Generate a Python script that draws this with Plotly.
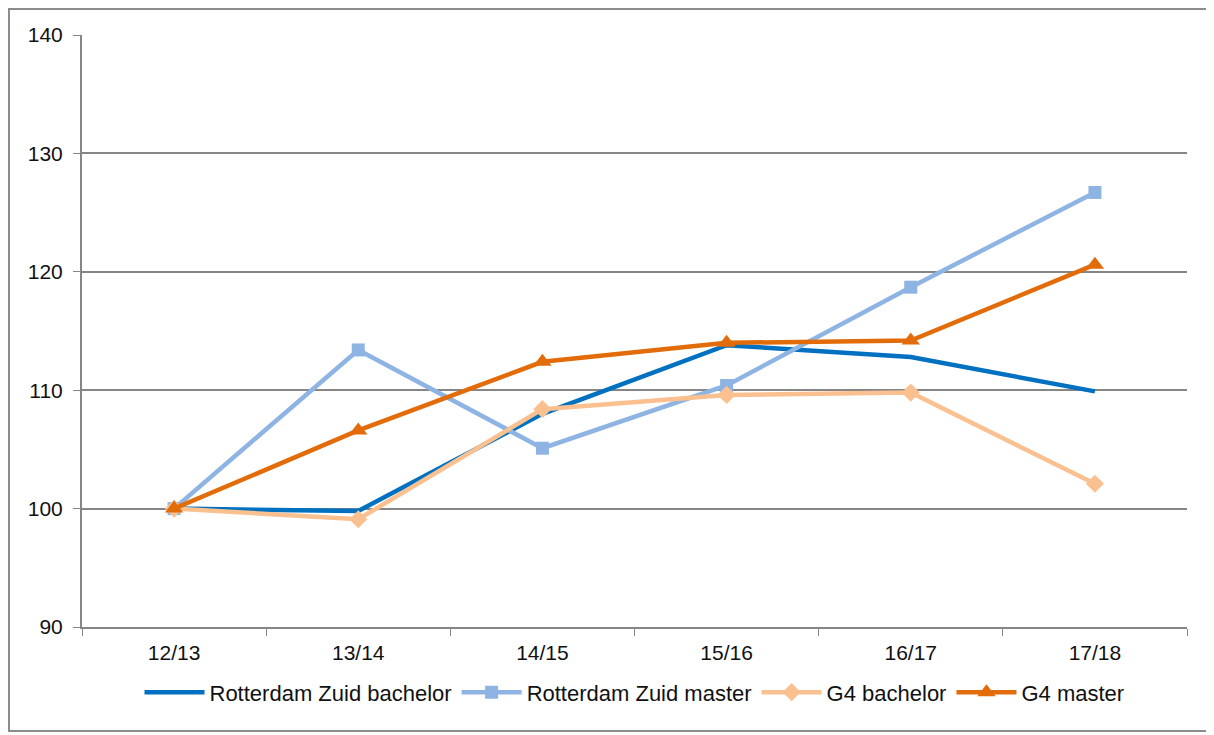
import plotly.graph_objects as go

years = ["12/13", "13/14", "14/15", "15/16", "16/17", "17/18"]

rz_bachelor = [100, 99.8, 108.0, 113.8, 112.8, 109.9]
rz_master = [100, 113.4, 105.1, 110.4, 118.7, 126.7]
g4_bachelor = [100, 99.1, 108.4, 109.6, 109.8, 102.1]
g4_master = [100, 106.6, 112.4, 114.0, 114.2, 120.6]

# page body has an 8px margin, so the figure is sized/placed to compensate
W, H = 1206, 727
L, R, T, B = 74, 27, 27, 108

fig = go.Figure()
fig.add_trace(go.Scatter(x=years, y=rz_bachelor, name="Rotterdam Zuid bachelor",
                         mode="lines", line=dict(color="#0070C0", width=4.5)))
fig.add_trace(go.Scatter(x=years, y=rz_master, name="Rotterdam Zuid master",
                         mode="lines+markers", line=dict(color="#8EB4E3", width=4.5),
                         marker=dict(symbol="square", size=13, color="#8EB4E3")))
fig.add_trace(go.Scatter(x=years, y=g4_bachelor, name="G4 bachelor",
                         mode="lines+markers", line=dict(color="#FAC090", width=4.5),
                         marker=dict(symbol="diamond", size=14, color="#FAC090")))
fig.add_trace(go.Scatter(x=years, y=g4_master, name="G4 master",
                         mode="lines+markers", line=dict(color="#E36C0A", width=4.5),
                         marker=dict(symbol="triangle-up", size=16, color="#E36C0A")))

pw, ph = W - L - R, H - T - B
# outer chart border
fig.add_shape(type="rect", xref="paper", yref="paper",
              x0=(1 - L) / pw, x1=(1202 - L) / pw,
              y0=(H - B - 723) / ph, y1=(H - B - 1) / ph,
              line=dict(color="#8c8c8c", width=2), layer="below")

fig.update_layout(
    width=W, height=H,
    margin=dict(l=L, r=R, t=T, b=B),
    paper_bgcolor="white", plot_bgcolor="white",
    font=dict(family="Liberation Sans, Arial", size=21, color="#111111"),
    showlegend=True,
    legend=dict(orientation="h", x=0.5, xanchor="center", y=-0.075, yanchor="top",
                font=dict(size=22), itemwidth=60, tracegroupgap=0),
)
fig.update_xaxes(showline=True, linecolor="#868686", linewidth=2,
                 ticks="outside", tickson="boundaries", ticklen=7, tickcolor="#868686",
                 showgrid=False, range=[-0.5, 5.5], ticklabelstandoff=6)
fig.update_yaxes(range=[90, 140], dtick=10, showline=True, linecolor="#868686", linewidth=2,
                 ticks="outside", ticklen=7, tickcolor="#868686",
                 showgrid=True, gridcolor="#868686", gridwidth=2, zeroline=False,
                 ticklabelstandoff=6)

fig.write_html("out.html")
